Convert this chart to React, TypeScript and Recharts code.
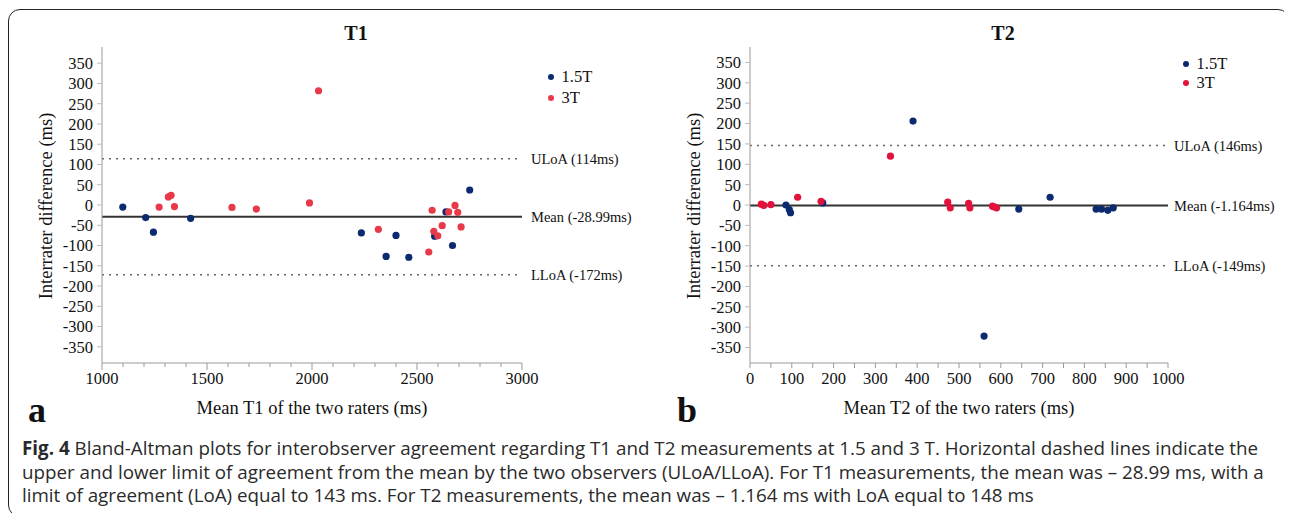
import { ScatterChart, Scatter, XAxis, YAxis, ReferenceLine } from 'recharts'

// tick values
const diffTicks = [-350, -300, -250, -200, -150, -100, -50, 0, 50, 100, 150, 200, 250, 300, 350]
const t1Ticks = [1000, 1100, 1200, 1300, 1400, 1500, 1600, 1700, 1800, 1900, 2000, 2100, 2200, 2300, 2400, 2500, 2600, 2700, 2800, 2900, 3000]
const t1Labels = [1000, 1500, 2000, 2500, 3000]
const t2Ticks = [0, 50, 100, 150, 200, 250, 300, 350, 400, 450, 500, 550, 600, 650, 700, 750, 800, 850, 900, 950, 1000]
const t2Labels = [0, 100, 200, 300, 400, 500, 600, 700, 800, 900, 1000]

// T1: mean of the two raters vs difference
const t1Blue = [
  { x: 1099, y: -5 }, { x: 1208, y: -31 }, { x: 1245, y: -67 }, { x: 1422, y: -33 },
  { x: 2235, y: -69 }, { x: 2353, y: -127 }, { x: 2400, y: -75 }, { x: 2461, y: -129 },
  { x: 2584, y: -77 }, { x: 2638, y: -17 }, { x: 2669, y: -100 }, { x: 2751, y: 37 },
]
const t1Red = [
  { x: 1272, y: -5 }, { x: 1316, y: 20 }, { x: 1329, y: 24 }, { x: 1345, y: -4 },
  { x: 1619, y: -6 }, { x: 1735, y: -10 }, { x: 1988, y: 5 }, { x: 2031, y: 282 },
  { x: 2316, y: -60 }, { x: 2556, y: -116 }, { x: 2572, y: -13 }, { x: 2580, y: -65 },
  { x: 2599, y: -76 }, { x: 2620, y: -51 }, { x: 2651, y: -17 }, { x: 2681, y: -1 },
  { x: 2694, y: -18 }, { x: 2710, y: -54 },
]

// T2
const t2Blue = [
  { x: 86, y: 0 }, { x: 94, y: -11 }, { x: 97, y: -19 }, { x: 174, y: 5 },
  { x: 390, y: 206 }, { x: 560, y: -322 }, { x: 643, y: -10 }, { x: 718, y: 19 },
  { x: 828, y: -10 }, { x: 841, y: -10 }, { x: 856, y: -13 }, { x: 869, y: -7 },
]
const t2Red = [
  { x: 27, y: 2 }, { x: 33, y: -1 }, { x: 50, y: 1 }, { x: 114, y: 19 },
  { x: 170, y: 9 }, { x: 336, y: 120 }, { x: 473, y: 7 }, { x: 479, y: -7 },
  { x: 523, y: 4 }, { x: 526, y: -7 }, { x: 580, y: -3 }, { x: 585, y: -5 }, { x: 590, y: -7 },
]

const serif = "'Liberation Serif', 'Times New Roman', serif"
const NAVY = '#0b2a70'

const dot = (fill: string) => (p: any) => <circle cx={p.cx} cy={p.cy} r={3.6} fill={fill} />

function makeTick(labels: number[], majorLen: number, minorLen: number) {
  return (p: any) => {
    const v = p.payload.value
    const major = labels.includes(v)
    return (
      <g>
        <line x1={p.x} x2={p.x} y1={p.y} y2={p.y + (major ? majorLen : minorLen)} stroke="#999" />
        {major && (
          <text x={p.x} y={p.y + 9} dy="0.71em" textAnchor="middle" fill="#111" style={{ fontFamily: serif, fontSize: 16.5 }}>
            {v}
          </text>
        )}
      </g>
    )
  }
}

const yTick = (p: any) => (
  <g>
    <line x1={p.x} x2={p.x + 5} y1={p.y} y2={p.y} stroke="#bbb" />
    <text x={p.x - 4} y={p.y} dy="0.36em" textAnchor="end" fill="#111" style={{ fontFamily: serif, fontSize: 16.5 }}>
      {p.payload.value}
    </text>
  </g>
)

interface PanelProps {
  left: number
  width: number
  yWidth: number
  right: number
  domain: [number, number]
  yDomain: [number, number]
  ticks: number[]
  tick: (p: any) => any
  blue: { x: number; y: number }[]
  red: { x: number; y: number }[]
  redColor: string
  uloa: number
  mean: number
  lloa: number
  labels: [string, string, string]
  labelOffset: number
}

function Panel(p: PanelProps) {
  const lbl = (value: string) => ({
    value, position: 'right' as const, offset: p.labelOffset, fill: '#111', fontSize: 14.5, style: { fontFamily: serif },
  })
  return (
    <div style={{ position: 'absolute', left: p.left, top: 0, fontFamily: serif }}>
      <ScatterChart width={p.width} height={440} margin={{ top: 47, right: p.right, bottom: 47, left: 0 }} style={{ fontFamily: serif }}>
        <XAxis
          type="number" dataKey="x" domain={p.domain} ticks={p.ticks} interval={0}
          tickSize={0} tickMargin={0} tickLine={false} tick={p.tick} height={30}
          axisLine={{ stroke: '#999' }}
        />
        <YAxis
          type="number" dataKey="y" domain={p.yDomain} ticks={diffTicks} interval={0} allowDataOverflow
          width={p.yWidth} tickSize={5} tickMargin={0} tickLine={false}
          axisLine={{ stroke: '#999' }} tick={yTick}
        />
        <ReferenceLine y={p.uloa} stroke="#666" strokeWidth={1.5} strokeDasharray="2 5" label={lbl(p.labels[0])} />
        <ReferenceLine y={p.mean} stroke="#333" strokeWidth={2} label={lbl(p.labels[1])} />
        <ReferenceLine y={p.lloa} stroke="#666" strokeWidth={1.5} strokeDasharray="2 5" label={lbl(p.labels[2])} />
        <Scatter data={p.blue} shape={dot(NAVY)} isAnimationActive={false} />
        <Scatter data={p.red} shape={dot(p.redColor)} isAnimationActive={false} />
      </ScatterChart>
    </div>
  )
}

const abs = (x: number, y: number, extra: React.CSSProperties = {}): React.CSSProperties => ({
  position: 'absolute', left: x, top: y, transform: 'translate(-50%, -50%)', whiteSpace: 'nowrap', fontFamily: serif, color: '#111', ...extra,
})

function Legend({ x, y, gap, red }: { x: number; y: number; gap: number; red: string }) {
  const row = (cy: number, color: string, text: string) => (
    <>
      <div style={{ position: 'absolute', left: x - 3, top: cy - 3, width: 6, height: 6, borderRadius: 3, background: color }} />
      <div style={{ position: 'absolute', left: x + 11, top: cy, transform: 'translateY(-50%)', fontFamily: serif, fontSize: 16.5, color: '#111', whiteSpace: 'nowrap' }}>{text}</div>
    </>
  )
  return (
    <>
      {row(y, NAVY, '1.5T')}
      {row(y + gap, red, '3T')}
    </>
  )
}

export default function App() {
  return (
    <div style={{ position: 'relative', width: 1292, height: 521, margin: -8, background: '#fff', overflow: 'hidden' }}>
      <div style={{ position: 'absolute', left: 8, top: 9, width: 1282, height: 508, boxSizing: 'border-box', border: '1.5px solid #222', borderRadius: 12 }} />

      <Panel
        left={0} width={650} yWidth={102} right={128} domain={[1000, 3000]} yDomain={[-390, 390]}
        ticks={t1Ticks} tick={makeTick(t1Labels, 7, 4)} blue={t1Blue} red={t1Red} redColor="#e8394a"
        uloa={114} mean={-28.99} lloa={-172} labels={['ULoA (114ms)', 'Mean (-28.99ms)', 'LLoA (-172ms)']} labelOffset={9}
      />
      <Panel
        left={640} width={652} yWidth={110} right={124} domain={[0, 1000]} yDomain={[-388, 388]}
        ticks={t2Ticks} tick={makeTick(t2Labels, 5, 5)} blue={t2Blue} red={t2Red} redColor="#e2123c"
        uloa={146} mean={-1.164} lloa={-149} labels={['ULoA (146ms)', 'Mean (-1.164ms)', 'LLoA (-149ms)']} labelOffset={6}
      />

      <div style={abs(356, 33, { fontSize: 20, fontWeight: 'bold' })}>T1</div>
      <div style={abs(1003, 33, { fontSize: 20, fontWeight: 'bold' })}>T2</div>

      <div style={abs(46, 206, { fontSize: 18.5, transform: 'translate(-50%, -50%) rotate(-90deg)' })}>Interrater difference (ms)</div>
      <div style={abs(694, 206, { fontSize: 18.5, transform: 'translate(-50%, -50%) rotate(-90deg)' })}>Interrater difference (ms)</div>

      <div style={abs(312, 408, { fontSize: 18.5 })}>Mean T1 of the two raters (ms)</div>
      <div style={abs(959, 408, { fontSize: 18.5 })}>Mean T2 of the two raters (ms)</div>

      <div style={abs(37, 410, { fontSize: 36, fontWeight: 'bold' })}>a</div>
      <div style={abs(687, 410, { fontSize: 36, fontWeight: 'bold' })}>b</div>

      <Legend x={550.5} y={77} gap={20.5} red="#e8394a" />
      <Legend x={1185.5} y={63.5} gap={19.5} red="#e2123c" />

      <div style={{ position: 'absolute', left: 22, top: 437, fontFamily: "'Open Sans', sans-serif", fontSize: 18.8, lineHeight: '23.5px', color: '#2a2a2a', whiteSpace: 'nowrap' }}>
        <div><b>Fig. 4</b> Bland-Altman plots for interobserver agreement regarding T1 and T2 measurements at 1.5 and 3 T. Horizontal dashed lines indicate the</div>
        <div>upper and lower limit of agreement from the mean by the two observers (ULoA/LLoA). For T1 measurements, the mean was – 28.99 ms, with a</div>
        <div>limit of agreement (LoA) equal to 143 ms. For T2 measurements, the mean was – 1.164 ms with LoA equal to 148 ms</div>
      </div>
    </div>
  )
}
